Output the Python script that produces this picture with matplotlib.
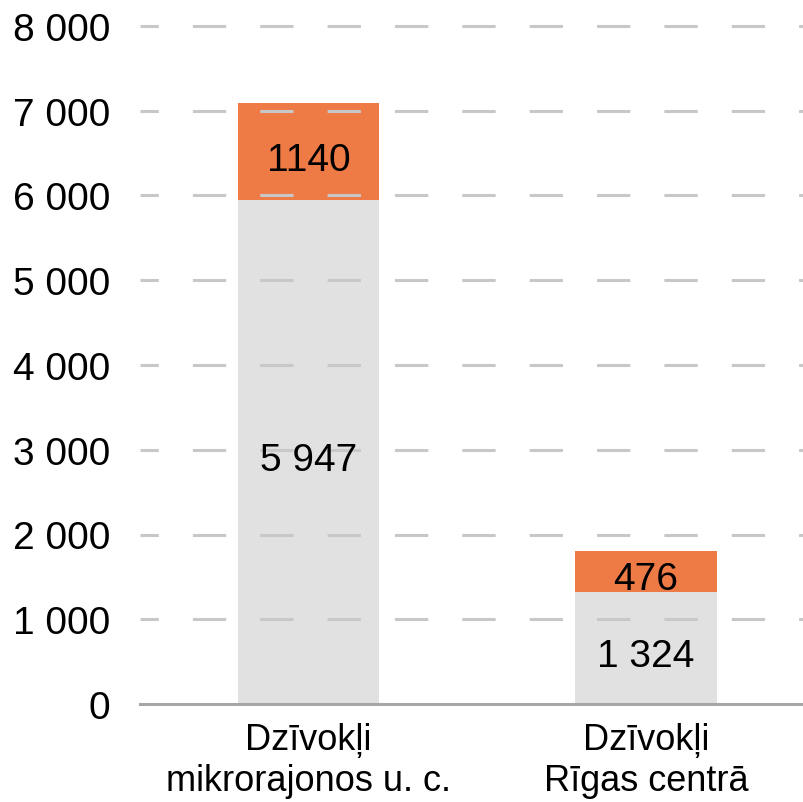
import matplotlib
matplotlib.use("Agg")
import matplotlib.pyplot as plt
import matplotlib.transforms as mtransforms

plt.rcParams['font.family'] = ['Liberation Sans', 'DejaVu Sans']
plt.rcParams['lines.scale_dashes'] = False

categories = ["Dzīvokļi\nmikrorajonos u. c.", "Dzīvokļi\nRīgas centrā"]
base_values = [5947, 1324]
top_values = [1140, 476]
base_labels = ["5 947", "1 324"]
top_labels = ["1140", "476"]
yticks = [0, 1000, 2000, 3000, 4000, 5000, 6000, 7000, 8000]
ytick_labels = ["0", "1 000", "2 000", "3 000", "4 000", "5 000", "6 000", "7 000", "8 000"]

gray = "#E1E1E1"
orange = "#EE7A46"

fig = plt.figure(figsize=(8.04, 8.03), dpi=100)
ax = fig.add_axes([140/804, 1-705/803, (804-140)/804, (705-27)/803])

x = list(range(len(categories)))
width = 0.42
ax.bar(x, base_values, width, color=gray, zorder=1)
ax.bar(x, top_values, width, bottom=base_values, color=orange, zorder=1)

lab_tr = mtransforms.offset_copy(ax.transData, fig=fig, x=0, y=-12.85, units='points')
for xi, bv, tv, bl, tl in zip(x, base_values, top_values, base_labels, top_labels):
    ax.text(xi, bv/2, bl, ha='center', va='baseline', fontsize=28, color='black',
            zorder=5, transform=lab_tr)
    ax.text(xi, bv + tv/2, tl, ha='center', va='baseline', fontsize=28, color='black',
            zorder=5, transform=lab_tr)

ax.set_ylim(0, 8000)
ax.set_xlim(-0.5, 1 + (804-646)/337)
ax.set_yticks(yticks)
ax.set_yticklabels(ytick_labels, fontsize=28)
ax.set_xticks(x)
ax.set_xticklabels(categories, fontsize=26, linespacing=1.22)
ax.tick_params(axis='y', length=0, pad=21.6)
ax.tick_params(axis='x', length=0, pad=13)

for s in ['left', 'right', 'top']:
    ax.spines[s].set_visible(False)
ax.spines['bottom'].set_color('#A6A6A6')
ax.spines['bottom'].set_linewidth(2.2)
ax.spines['bottom'].set_zorder(4)

for yv in yticks[1:]:
    ax.axhline(yv, color='#C8C8C8', linewidth=2.2,
               linestyle=(10.8, (24, 24.5)), zorder=3, clip_on=False)

fig.savefig("out.png", dpi=100)
